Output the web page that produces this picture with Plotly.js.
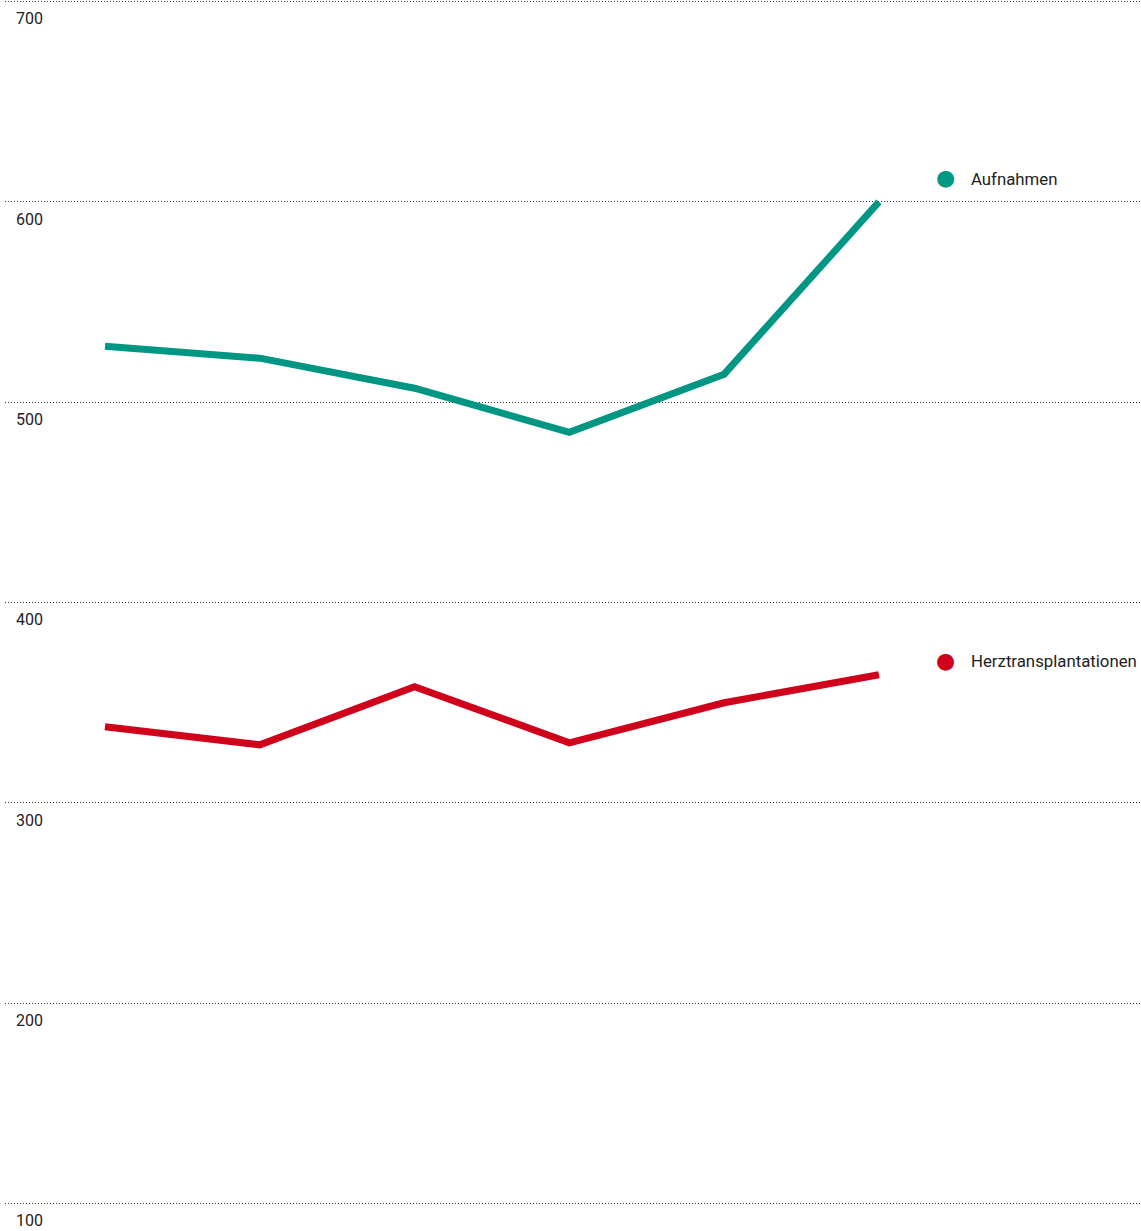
<!DOCTYPE html>
<html><head><meta charset="utf-8">
<script src="https://cdn.plot.ly/plotly-3.0.1.min.js"></script>
<style>html,body{margin:0;padding:0;background:#fff}#chart{width:1141px;height:1231px}</style>
</head><body><div id="chart"></div>
<script>
const years = [2013, 2014, 2015, 2016, 2017, 2018];
const aufnahmen = [528, 522, 507, 485, 514, 600];
const herztransplantationen = [338, 329, 358, 330, 350, 364];
const seriesNames = ["Aufnahmen", "Herztransplantationen"];
const seriesColors = ["#009684", "#d0021b"];
const yTicks = [100, 200, 300, 400, 500, 600, 700];
const labelY = [611.5, 370.8];

const traces = [aufnahmen, herztransplantationen].map((vals, i) => ({
  type: "scatter", mode: "lines", x: years, y: vals, name: seriesNames[i],
  line: {color: seriesColors[i], width: 7}, hoverinfo: "skip"
}));

const annotations = [];
seriesNames.forEach((n, i) => {
  annotations.push({
    xref: "paper", yref: "y", x: 0.8283, y: labelY[i], xanchor: "center", yanchor: "middle",
    showarrow: false, text: "●", yshift: 1,
    font: {family: "DejaVu Sans, sans-serif", size: 22, color: seriesColors[i]}
  });
  annotations.push({
    xref: "paper", yref: "y", x: 0.8504, y: labelY[i], xanchor: "left", yanchor: "middle",
    showarrow: false, align: "left", text: n, xshift: -2,
    font: {family: "Roboto, sans-serif", size: 16.8, color: "#222"}
  });
});

const layout = {
  width: 1141, height: 1231,
  margin: {l: 5, r: 0, t: 0, b: 0},
  paper_bgcolor: "#fff", plot_bgcolor: "#fff",
  showlegend: false,
  font: {family: "Roboto, sans-serif", size: 16, color: "#222"},
  xaxis: {range: [2012.354, 2019.693], showgrid: false, zeroline: false, showticklabels: false, showline: false, ticks: ""},
  yaxis: {range: [86.3, 700.8], tickvals: yTicks, ticktext: yTicks.map(String),
    showgrid: true, gridcolor: "#333", gridwidth: 1, griddash: "1px,2px",
    zeroline: false, showline: false, ticks: "",
    ticklabelposition: "inside bottom", ticklabelstandoff: 8, ticklabelshift: 6,
    tickfont: {family: "Roboto, sans-serif", size: 16, color: "#222"}},
  annotations: annotations
};
Plotly.newPlot("chart", traces, layout, {staticPlot: true, displayModeBar: false});
</script></body></html>
